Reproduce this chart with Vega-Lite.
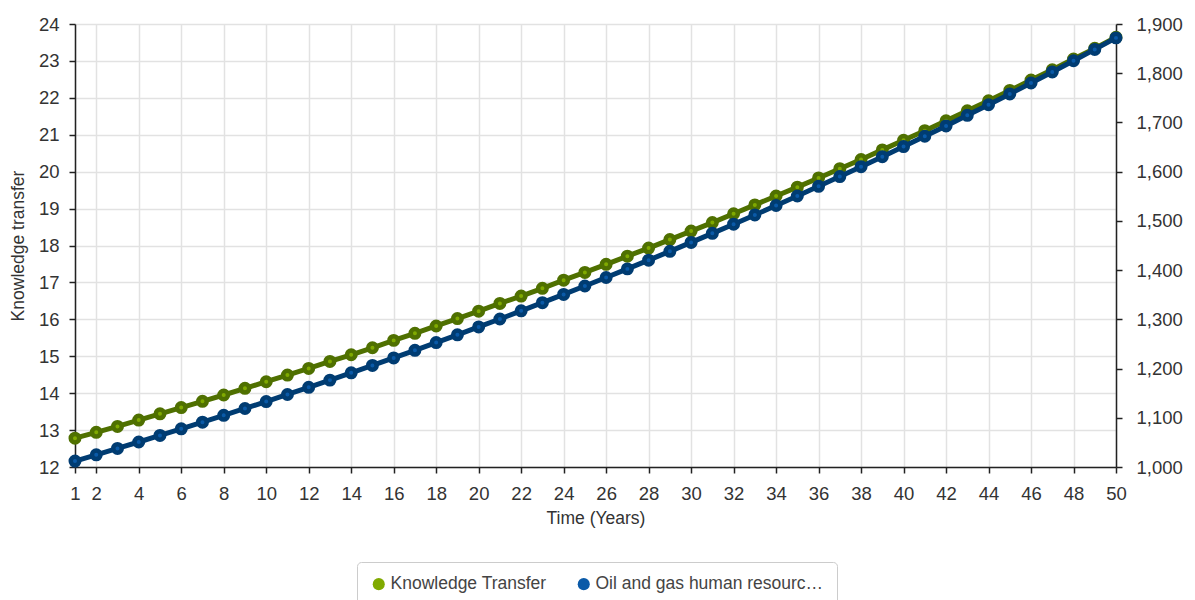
{
  "$schema": "https://vega.github.io/schema/vega-lite/v6.json",
  "autosize": {"type": "none"},
  "width": 1041,
  "height": 443,
  "padding": {"left": 75, "top": 24, "right": 79, "bottom": 133},
  "background": "white",
  "config": {
    "font": "Liberation Sans",
    "view": {"stroke": null},
    "axis": {
      "labelFont": "Liberation Sans",
      "titleFont": "Liberation Sans",
      "labelFontSize": 18.5,
      "labelColor": "#333333",
      "titleFontSize": 17.5,
      "titleFontWeight": "normal",
      "titleColor": "#333333",
      "domainColor": "#222222",
      "domainWidth": 1.5,
      "tickColor": "#222222",
      "tickWidth": 1.5,
      "tickSize": 6,
      "gridColor": "#e2e2e2",
      "gridWidth": 1.5
    }
  },
  "data": {
    "values": [
      {"t": 1, "kt": 12.78, "og": 1012.0},
      {"t": 2, "kt": 12.94, "og": 1024.8},
      {"t": 3, "kt": 13.10, "og": 1037.7},
      {"t": 4, "kt": 13.27, "og": 1050.8},
      {"t": 5, "kt": 13.44, "og": 1064.1},
      {"t": 6, "kt": 13.61, "og": 1077.5},
      {"t": 7, "kt": 13.78, "og": 1091.1},
      {"t": 8, "kt": 13.95, "og": 1104.9},
      {"t": 9, "kt": 14.13, "og": 1118.9},
      {"t": 10, "kt": 14.31, "og": 1133.0},
      {"t": 11, "kt": 14.49, "og": 1147.3},
      {"t": 12, "kt": 14.67, "og": 1161.8},
      {"t": 13, "kt": 14.86, "og": 1176.5},
      {"t": 14, "kt": 15.04, "og": 1191.3},
      {"t": 15, "kt": 15.23, "og": 1206.4},
      {"t": 16, "kt": 15.43, "og": 1221.6},
      {"t": 17, "kt": 15.62, "og": 1237.0},
      {"t": 18, "kt": 15.82, "og": 1252.7},
      {"t": 19, "kt": 16.02, "og": 1268.5},
      {"t": 20, "kt": 16.22, "og": 1284.5},
      {"t": 21, "kt": 16.43, "og": 1300.7},
      {"t": 22, "kt": 16.63, "og": 1317.2},
      {"t": 23, "kt": 16.84, "og": 1333.8},
      {"t": 24, "kt": 17.06, "og": 1350.6},
      {"t": 25, "kt": 17.27, "og": 1367.7},
      {"t": 26, "kt": 17.49, "og": 1385.0},
      {"t": 27, "kt": 17.71, "og": 1402.5},
      {"t": 28, "kt": 17.93, "og": 1420.2},
      {"t": 29, "kt": 18.16, "og": 1438.1},
      {"t": 30, "kt": 18.39, "og": 1456.3},
      {"t": 31, "kt": 18.62, "og": 1474.7},
      {"t": 32, "kt": 18.86, "og": 1493.3},
      {"t": 33, "kt": 19.10, "og": 1512.1},
      {"t": 34, "kt": 19.34, "og": 1531.2},
      {"t": 35, "kt": 19.58, "og": 1550.6},
      {"t": 36, "kt": 19.83, "og": 1570.2},
      {"t": 37, "kt": 20.08, "og": 1590.0},
      {"t": 38, "kt": 20.33, "og": 1610.1},
      {"t": 39, "kt": 20.59, "og": 1630.4},
      {"t": 40, "kt": 20.85, "og": 1651.0},
      {"t": 41, "kt": 21.11, "og": 1671.9},
      {"t": 42, "kt": 21.38, "og": 1693.0},
      {"t": 43, "kt": 21.65, "og": 1714.4},
      {"t": 44, "kt": 21.92, "og": 1736.0},
      {"t": 45, "kt": 22.20, "og": 1757.9},
      {"t": 46, "kt": 22.48, "og": 1780.1},
      {"t": 47, "kt": 22.76, "og": 1802.6},
      {"t": 48, "kt": 23.05, "og": 1825.4},
      {"t": 49, "kt": 23.34, "og": 1848.4},
      {"t": 50, "kt": 23.64, "og": 1871.8}
    ]
  },
  "encoding": {
    "x": {
      "field": "t",
      "type": "quantitative",
      "scale": {"domain": [1, 50], "nice": false, "zero": false},
      "axis": {
        "title": "Time (Years)",
        "values": [1, 2, 4, 6, 8, 10, 12, 14, 16, 18, 20, 22, 24, 26, 28, 30, 32, 34, 36, 38, 40, 42, 44, 46, 48, 50],
        "labelPadding": 11,
        "titlePadding": 7,
        "labelFlush": false,
        "labelOverlap": false
      }
    }
  },
  "layer": [
    {
      "encoding": {
        "y": {
          "field": "kt",
          "type": "quantitative",
          "scale": {"domain": [12, 24], "nice": false, "zero": false},
          "axis": {
            "orient": "left",
            "title": "Knowledge transfer",
            "values": [12, 13, 14, 15, 16, 17, 18, 19, 20, 21, 22, 23, 24],
            "labelPadding": 10,
            "titlePadding": 11
          }
        }
      },
      "layer": [
        {"mark": {"type": "line", "color": "#4f7000", "strokeWidth": 5}},
        {
          "mark": {"type": "point", "shape": "circle", "filled": true, "opacity": 1, "size": 72, "stroke": "#4f7000", "strokeWidth": 4.5},
          "encoding": {
            "color": {
              "datum": "Knowledge Transfer",
              "type": "nominal",
              "scale": {"domain": ["Knowledge Transfer", "Oil and gas human resourc…"], "range": ["#80aa00", "#0a5aa8"]},
              "legend": {
                "title": null,
                "orient": "none",
                "legendX": 282,
                "legendY": 538,
                "direction": "horizontal",
                "symbolType": "circle",
                "symbolSize": 145,
                "symbolStrokeWidth": 0,
                "symbolOpacity": 1,
                "labelFont": "Liberation Sans",
                "labelFontSize": 17.5,
                "labelColor": "#444444",
                "labelLimit": 300,
                "labelOffset": 3,
                "columnPadding": 28,
                "padding": 13,
                "strokeColor": "#cccccc",
                "cornerRadius": 4
              }
            }
          }
        }
      ]
    },
    {
      "encoding": {
        "y": {
          "field": "og",
          "type": "quantitative",
          "scale": {"domain": [1000, 1900], "nice": false, "zero": false},
          "axis": {
            "orient": "right",
            "title": null,
            "values": [1000, 1100, 1200, 1300, 1400, 1500, 1600, 1700, 1800, 1900],
            "format": ",d",
            "grid": false,
            "labelPadding": 14
          }
        }
      },
      "layer": [
        {"mark": {"type": "line", "color": "#003c72", "strokeWidth": 5}},
        {
          "mark": {"type": "point", "shape": "circle", "filled": true, "opacity": 1, "size": 72, "stroke": "#003c72", "strokeWidth": 4.5},
          "encoding": {
            "color": {"datum": "Oil and gas human resourc…", "type": "nominal"}
          }
        }
      ]
    }
  ],
  "resolve": {"scale": {"y": "independent"}}
}
